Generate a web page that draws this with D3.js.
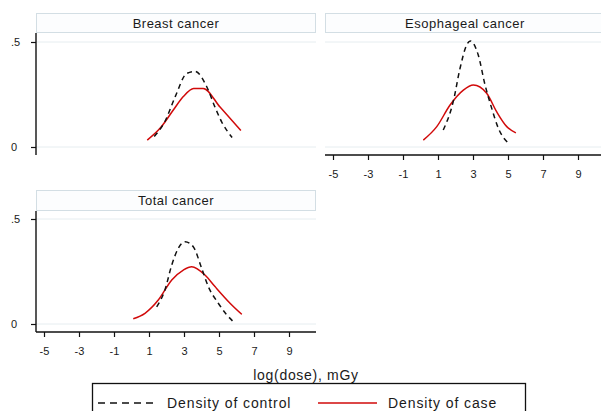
<!DOCTYPE html>
<html><head><meta charset="utf-8">
<script src="https://cdn.jsdelivr.net/npm/d3@7"></script>
<style>body{margin:0;background:#fff}svg{display:block;font-family:"Liberation Sans",Arial,sans-serif}</style>
</head><body><svg id="c" width="601" height="411"></svg>
<script>
const panelTitles = ["Breast cancer", "Esophageal cancer", "Total cancer"];
const xTicks = [-5, -3, -1, 1, 3, 5, 7, 9];
const yTicks = [0, 0.5];
const yTickLabels = ["0", ".5"];
const seriesNames = ["Density of control", "Density of case"];

const breastControlX = [1.3, 1.9, 2.5, 3.15, 3.63, 4.3, 4.77, 5.15, 5.75];
const breastControlY = [0.05, 0.12, 0.24, 0.35, 0.36, 0.287, 0.19, 0.12, 0.045];
const breastCaseX = [0.9, 1.63, 2.39, 2.96, 3.55, 4.1, 5.06, 6.25];
const breastCaseY = [0.033, 0.089, 0.176, 0.24, 0.279, 0.279, 0.19, 0.078];

const esoControlX = [1.3, 1.87, 2.26, 2.64, 2.85, 3.3, 3.69, 4.07, 4.45, 5.02];
const esoControlY = [0.081, 0.216, 0.375, 0.486, 0.505, 0.438, 0.295, 0.184, 0.089, 0.018];
const esoCaseX = [0.16, 0.93, 1.69, 2.45, 3.02, 3.78, 4.35, 4.93, 5.45];
const esoCaseY = [0.033, 0.097, 0.2, 0.271, 0.295, 0.256, 0.168, 0.097, 0.067];

const totalControlX = [1.44, 1.91, 2.3, 2.67, 3.06, 3.53, 4.01, 4.39, 4.96, 5.38, 5.82];
const totalControlY = [0.082, 0.162, 0.281, 0.36, 0.392, 0.368, 0.265, 0.178, 0.099, 0.05, 0.011];
const totalCaseX = [0.1, 0.77, 1.53, 2.3, 2.96, 3.44, 4.2, 4.77, 5.63, 6.3];
const totalCaseY = [0.025, 0.051, 0.114, 0.21, 0.257, 0.273, 0.233, 0.178, 0.099, 0.046];

const zip = (xs, ys) => xs.map((x, i) => ({x, y: ys[i]}));
const panelData = [
  {control: zip(breastControlX, breastControlY), cas: zip(breastCaseX, breastCaseY)},
  {control: zip(esoControlX, esoControlY), cas: zip(esoCaseX, esoCaseY)},
  {control: zip(totalControlX, totalControlY), cas: zip(totalCaseX, totalCaseY)}
];

const layout = [
  {left: 36, top: 33, bottom: 155, hTop: 13, yAxis: true, xAxis: false},
  {left: 325, top: 33, bottom: 155, hTop: 13, yAxis: false, xAxis: true},
  {left: 36, top: 211, bottom: 332, hTop: 190, yAxis: true, xAxis: true}
];
const W = 280;
const svg = d3.select("#c");
const grid = "#e6edf0";
const RED = "#d10a0a";
const TXT = "#1a1a1a";

layout.forEach((L, i) => {
  const x = d3.scaleLinear().domain([-5 - 8/17.5, -5 - 8/17.5 + W/17.5]).range([L.left, L.left + W]);
  const y = d3.scaleLinear().domain([0, 0.5]).range([L.bottom - 8, L.bottom - 113]);
  const g = svg.append("g");
  const pw = i === 1 ? 290 : W;
  g.append("rect").attr("x", L.left + 0.5).attr("y", L.hTop + 0.5)
    .attr("width", pw - 1).attr("height", L.top - L.hTop - 1)
    .attr("fill", "#fcfdfe").attr("stroke", "#d3dee4");
  g.append("text").attr("x", L.left + W / 2).attr("y", L.hTop + 15)
    .attr("text-anchor", "middle").attr("font-size", 13).attr("letter-spacing", 0.5)
    .attr("fill", TXT).text(panelTitles[i]);
  g.selectAll("line.gr").data(yTicks).join("line")
    .attr("x1", L.left).attr("x2", L.left + pw)
    .attr("y1", d => y(d)).attr("y2", d => y(d))
    .attr("stroke", grid).attr("stroke-width", 1);
  const line = d3.line().x(d => x(d.x)).y(d => y(d.y)).curve(d3.curveMonotoneX);
  g.append("path").attr("d", line(panelData[i].cas)).attr("fill", "none")
    .attr("stroke", RED).attr("stroke-width", 1.5);
  g.append("path").attr("d", line(panelData[i].control)).attr("fill", "none")
    .attr("stroke", "#111").attr("stroke-width", 1.5).attr("stroke-dasharray", "5,4");
  if (L.yAxis) {
    const ya = d3.axisLeft(y).tickValues(yTicks).tickFormat((d, k) => yTickLabels[k]).tickSize(5).tickSizeOuter(0);
    const ag = g.append("g").attr("transform", `translate(${L.left},0)`).call(ya);
    ag.select(".domain").attr("d", `M0,${L.top}V${L.bottom}`).attr("stroke", "#111").attr("stroke-width", 1.4);
    ag.selectAll(".tick line").attr("stroke", "#111").attr("stroke-width", 1.2);
    ag.selectAll("text").attr("font-size", 11).attr("fill", TXT).attr("x", -25).attr("text-anchor", "start");
  }
  if (L.xAxis) {
    const xa = d3.axisBottom(x).tickValues(xTicks).tickFormat(d3.format("d")).tickSize(5).tickSizeOuter(0);
    const ag = g.append("g").attr("transform", `translate(0,${L.bottom})`).call(xa);
    ag.select(".domain").attr("d", `M${L.left},0H${L.left + pw}`).attr("stroke", "#111").attr("stroke-width", 1.4);
    ag.selectAll(".tick line").attr("stroke", "#111").attr("stroke-width", 1.2);
    ag.selectAll("text").attr("font-size", 11).attr("fill", TXT).attr("dy", "1.35em").text(d => String(d).replace("−", "-"));
  }
});

svg.append("text").attr("x", 306).attr("y", 380).attr("text-anchor", "middle")
  .attr("font-size", 14).attr("letter-spacing", 0.7).attr("fill", TXT).text("log(dose), mGy");

const lg = svg.append("g");
lg.append("rect").attr("x", 92.5).attr("y", 383.5).attr("width", 433).attr("height", 40)
  .attr("fill", "none").attr("stroke", "#111").attr("stroke-width", 1.3);
const legItems = [
  {x1: 98, x2: 158, tx: 167, dash: "7,5", color: "#111"},
  {x1: 318, x2: 377, tx: 388, dash: null, color: RED}
];
legItems.forEach((it, k) => {
  lg.append("line").attr("x1", it.x1).attr("x2", it.x2).attr("y1", 403).attr("y2", 403)
    .attr("stroke", it.color).attr("stroke-width", 1.4).attr("stroke-dasharray", it.dash);
  lg.append("text").attr("x", it.tx).attr("y", 408).attr("font-size", 14).attr("letter-spacing", 0.9)
    .attr("fill", TXT).text(seriesNames[k]);
});
</script></body></html>
